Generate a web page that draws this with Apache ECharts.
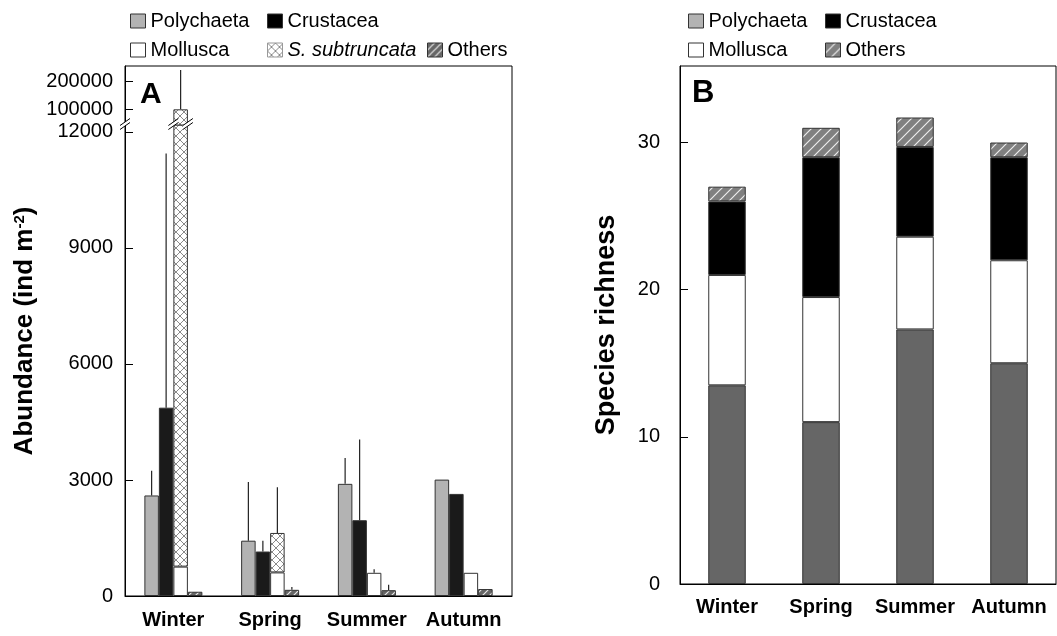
<!DOCTYPE html>
<html><head><meta charset="utf-8">
<script src="https://cdn.jsdelivr.net/npm/echarts@6/dist/echarts.min.js"></script>
<style>html,body{margin:0;padding:0;background:#fff}#c{width:1057px;height:636px}</style>
</head><body><div id="c"></div>
<script>
// ---------- data ----------
const seasons = ['Winter', 'Spring', 'Summer', 'Autumn'];
// Panel A: abundance (ind m-2), means
const polyA   = [2600, 1430, 2900, 3010];
const crustA  = [4870, 1150, 1960, 2640];
const mollA   = [760, 610, 600, 600];
const ssubA   = [99200, 1020, '-', '-'];
const othersA = [110, 160, 150, 180];
// Panel A: upper error (SD)
const polySD   = [640, 1520, 670, 0];
const crustSD  = [6570, 280, 2090, 0];
const mollSD   = [140000, 1180, 90, 0];   // on top of Mollusca + S. subtruncata
const othersSD = [0, 70, 140, 0];
// tick labels
const ticksALow  = [0, 3000, 6000, 9000, 12000];
const ticksAHigh = [100000, 200000];
const ticksB     = [0, 10, 20, 30];
// Panel B: species richness
const polyB   = [13.5, 11, 17.3, 15];
const mollB   = [7.5, 8.5, 6.3, 7];
const crustB  = [5, 9.5, 6.1, 7];
const othersB = [1, 2, 2, 1];

// ---------- styles ----------
const FONT = 'Liberation Sans, Arial, sans-serif';
const BAR_A = 14.5;
const LOW_MAX = 12180;

function crossPattern() {
  const s = 8, c = document.createElement('canvas'); c.width = s; c.height = s;
  const g = c.getContext('2d');
  g.fillStyle = '#fff'; g.fillRect(0, 0, s, s);
  g.strokeStyle = '#8a8a8a'; g.lineWidth = 1;
  g.beginPath(); g.moveTo(0, 0); g.lineTo(s, s); g.moveTo(s, 0); g.lineTo(0, s); g.stroke();
  return { image: c, repeat: 'repeat' };
}
function hatchPattern(bg, s) {
  const c = document.createElement('canvas'); c.width = s; c.height = s;
  const g = c.getContext('2d');
  g.fillStyle = bg; g.fillRect(0, 0, s, s);
  g.strokeStyle = 'rgba(255,255,255,0.85)'; g.lineWidth = 1.2;
  g.beginPath();
  g.moveTo(0, s); g.lineTo(s, 0);
  g.moveTo(-1, 1); g.lineTo(1, -1);
  g.moveTo(s - 1, s + 1); g.lineTo(s + 1, s - 1);
  g.stroke();
  return { image: c, repeat: 'repeat' };
}
const crossFill = crossPattern();
const hatchA = hatchPattern('#666', 7);
const hatchB = hatchPattern('#808080', 10);
const border = { borderColor: '#333', borderWidth: 1 };

// error data built from arrays
const errData = [];
seasons.forEach((s, i) => {
  const stackTop = mollA[i] + (typeof ssubA[i] === 'number' ? ssubA[i] : 0);
  [[polyA[i], polySD[i]], [crustA[i], crustSD[i]], [stackTop, mollSD[i]], [othersA[i], othersSD[i]]]
    .forEach((p, slot) => { if (p[1] > 0) errData.push([i, p[0], p[0] + p[1], slot]); });
});
const brokenIdx = seasons.findIndex((s, i) => mollA[i] + (typeof ssubA[i] === 'number' ? ssubA[i] : 0) > LOW_MAX);

function errRender(params, api) {
  const cat = api.value(0), base = api.value(1), top = api.value(2), slot = api.value(3);
  const p1 = api.coord([cat, base]), p2 = api.coord([cat, top]);
  const x = p1[0] + (slot - 1.5) * BAR_A;
  return { type: 'line', shape: { x1: x, y1: p1[1], x2: x, y2: p2[1] }, style: { stroke: '#222', lineWidth: 1.2 } };
}
function breakRender(params, api) {
  const cs = params.coordSys;
  const c = api.coord([api.value(0), 0]);
  const yc = cs.y - 1;
  const xs = [cs.x, c[0], c[0] + BAR_A];
  const children = [];
  xs.forEach(x => {
    children.push({ type: 'polygon', shape: { points: [[x - 5, yc + 5.5], [x + 5, yc - 1.5], [x + 5, yc - 5.5], [x - 5, yc + 1.5]] }, style: { fill: '#fff' } });
    children.push({ type: 'line', shape: { x1: x - 5, y1: yc + 5.5, x2: x + 5, y2: yc - 1.5 }, style: { stroke: '#000', lineWidth: 1 } });
    children.push({ type: 'line', shape: { x1: x - 5, y1: yc + 1.5, x2: x + 5, y2: yc - 5.5 }, style: { stroke: '#000', lineWidth: 1 } });
  });
  return { type: 'group', children };
}

const axisLineBlack = { show: true, lineStyle: { color: '#000', width: 1 } };
const plain = v => String(v);
const tickLab = { fontSize: 20, fontFamily: FONT, color: '#000', formatter: plain };
const catLab = { fontSize: 20, fontFamily: FONT, color: '#000', fontWeight: 'bold', interval: 0 };

const legendBase = {
  icon: 'rect', itemWidth: 15, itemHeight: 14, padding: 0, orient: 'horizontal',
  textStyle: { fontSize: 20, fontFamily: FONT, color: '#000' },
  itemStyle: border
};
function lg(name, left, top, style, textStyle) {
  const d = { name, itemStyle: Object.assign({}, border, style) };
  if (textStyle) d.textStyle = textStyle;
  return Object.assign({}, legendBase, { data: [d], left, top });
}
const R1 = 11, R2 = 40;

function barsA(xi, yi) {
  return [
    { name: 'Polychaeta', type: 'bar', xAxisIndex: xi, yAxisIndex: yi, data: polyA, barWidth: BAR_A, barGap: '0%', itemStyle: Object.assign({ color: '#b3b3b3' }, border) },
    { name: 'Crustacea', type: 'bar', xAxisIndex: xi, yAxisIndex: yi, data: crustA, barWidth: BAR_A, barGap: '0%', itemStyle: Object.assign({ color: '#1a1a1a' }, border) },
    { name: 'Mollusca', type: 'bar', xAxisIndex: xi, yAxisIndex: yi, stack: 'm' + xi, data: mollA, barWidth: BAR_A, barGap: '0%', itemStyle: Object.assign({ color: '#fff' }, border) },
    { name: 'S. subtruncata', type: 'bar', xAxisIndex: xi, yAxisIndex: yi, stack: 'm' + xi, data: ssubA, barWidth: BAR_A, barGap: '0%', itemStyle: Object.assign({ color: crossFill }, border) },
    { name: 'Others', type: 'bar', xAxisIndex: xi, yAxisIndex: yi, data: othersA, barWidth: BAR_A, barGap: '0%', itemStyle: Object.assign({ color: hatchA }, border) }
  ];
}

const chart = echarts.init(document.getElementById('c'), null, { renderer: 'canvas' });
chart.setOption({
  animation: false,
  backgroundColor: '#fff',
  title: [
    { text: 'A', left: 140, top: 80, padding: 0, textStyle: { fontSize: 30, fontWeight: 'bold', fontFamily: FONT, color: '#000' } },
    { text: 'B', left: 692, top: 78, padding: 0, textStyle: { fontSize: 31, fontWeight: 'bold', fontFamily: FONT, color: '#000' } }
  ],
  legend: [
    lg('Polychaeta', 130, R1, { color: '#b3b3b3' }),
    lg('Crustacea', 267, R1, { color: '#000' }),
    lg('Mollusca', 130, R2, { color: '#fff' }),
    lg('S. subtruncata', 267, R2, { color: crossFill, borderColor: '#999' }, { fontStyle: 'italic', fontSize: 20, fontFamily: FONT, color: '#000' }),
    lg('Others', 427, R2, { color: hatchA }),
    lg('Polychaeta', 688, R1, { color: '#b3b3b3' }),
    lg('Crustacea', 825, R1, { color: '#000' }),
    lg('Mollusca', 688, R2, { color: '#fff' }),
    lg('Others', 825, R2, { color: hatchB })
  ],
  grid: [
    { left: 125, right: 545, top: 125, bottom: 40 },
    { left: 125, right: 545, top: 66, height: 59 },
    { left: 125, right: 545, top: 66, bottom: 40, show: true, borderColor: '#000', borderWidth: 1, backgroundColor: 'transparent' },
    { left: 680, right: 1, top: 66, bottom: 52, show: true, borderColor: '#000', borderWidth: 1, backgroundColor: 'transparent' }
  ],
  xAxis: [
    { gridIndex: 0, type: 'category', data: seasons, axisLine: axisLineBlack, axisTick: { show: false }, axisLabel: Object.assign({ margin: 14 }, catLab) },
    { gridIndex: 1, type: 'category', data: seasons, show: false },
    { gridIndex: 2, type: 'category', data: seasons, show: false },
    { gridIndex: 3, type: 'category', data: seasons, axisLine: axisLineBlack, axisTick: { show: false }, axisLabel: Object.assign({ margin: 13 }, catLab) }
  ],
  yAxis: [
    { gridIndex: 0, type: 'value', min: 0, max: LOW_MAX, interval: 3000, axisLine: axisLineBlack,
      axisTick: { show: true, inside: true, length: 8, lineStyle: { color: '#000' }, customValues: ticksALow },
      axisLabel: Object.assign({ margin: 12, customValues: ticksALow }, tickLab), splitLine: { show: false } },
    { gridIndex: 1, type: 'value', min: 44000, max: 254600, axisLine: axisLineBlack,
      axisTick: { show: true, inside: true, length: 8, lineStyle: { color: '#000' }, customValues: ticksAHigh },
      axisLabel: Object.assign({ margin: 12, customValues: ticksAHigh }, tickLab), splitLine: { show: false } },
    { gridIndex: 2, type: 'value', min: 0, max: 1, axisLine: { show: false }, axisTick: { show: false }, axisLabel: { show: false }, splitLine: { show: false },
      name: 'Abundance (ind m{sup|-2})', nameLocation: 'middle', nameGap: 87, nameRotate: 90,
      nameTextStyle: { fontSize: 26, fontWeight: 'bold', fontFamily: FONT, color: '#000',
        rich: { sup: { fontSize: 15, fontWeight: 'bold', fontFamily: FONT, color: '#000', verticalAlign: 'top' } } } },
    { gridIndex: 3, type: 'value', min: 0, max: 35.2, interval: 10, axisLine: axisLineBlack,
      axisTick: { show: true, inside: true, length: 8, lineStyle: { color: '#000' }, customValues: ticksB },
      axisLabel: Object.assign({ margin: 20, customValues: ticksB }, tickLab), splitLine: { show: false },
      name: 'Species richness', nameLocation: 'middle', nameGap: 60, nameRotate: 90,
      nameTextStyle: { fontSize: 27, fontWeight: 'bold', fontFamily: FONT, color: '#000' } }
  ],
  series: [
    ...barsA(0, 0),
    ...barsA(1, 1),
    { name: 'errLow', type: 'custom', xAxisIndex: 0, yAxisIndex: 0, data: errData, encode: { x: 0, y: [1, 2] }, renderItem: errRender, clip: true, z: 5 },
    { name: 'errHigh', type: 'custom', xAxisIndex: 1, yAxisIndex: 1, data: errData, encode: { x: 0, y: [1, 2] }, renderItem: errRender, clip: true, z: 5 },
    { name: 'breaks', type: 'custom', xAxisIndex: 0, yAxisIndex: 0, data: brokenIdx >= 0 ? [[brokenIdx, 0]] : [], encode: { x: 0, y: 1 }, renderItem: breakRender, clip: false, z: 10, silent: true },
    { name: 'Polychaeta', type: 'bar', xAxisIndex: 3, yAxisIndex: 3, stack: 'b', data: polyB, barWidth: 37.5, itemStyle: Object.assign({ color: '#666' }, border) },
    { name: 'Mollusca', type: 'bar', xAxisIndex: 3, yAxisIndex: 3, stack: 'b', data: mollB, barWidth: 37.5, itemStyle: Object.assign({ color: '#fff' }, border) },
    { name: 'Crustacea', type: 'bar', xAxisIndex: 3, yAxisIndex: 3, stack: 'b', data: crustB, barWidth: 37.5, itemStyle: Object.assign({ color: '#000' }, border) },
    { name: 'Others', type: 'bar', xAxisIndex: 3, yAxisIndex: 3, stack: 'b', data: othersB, barWidth: 37.5, itemStyle: Object.assign({ color: hatchB }, border) }
  ]
});
</script></body></html>
